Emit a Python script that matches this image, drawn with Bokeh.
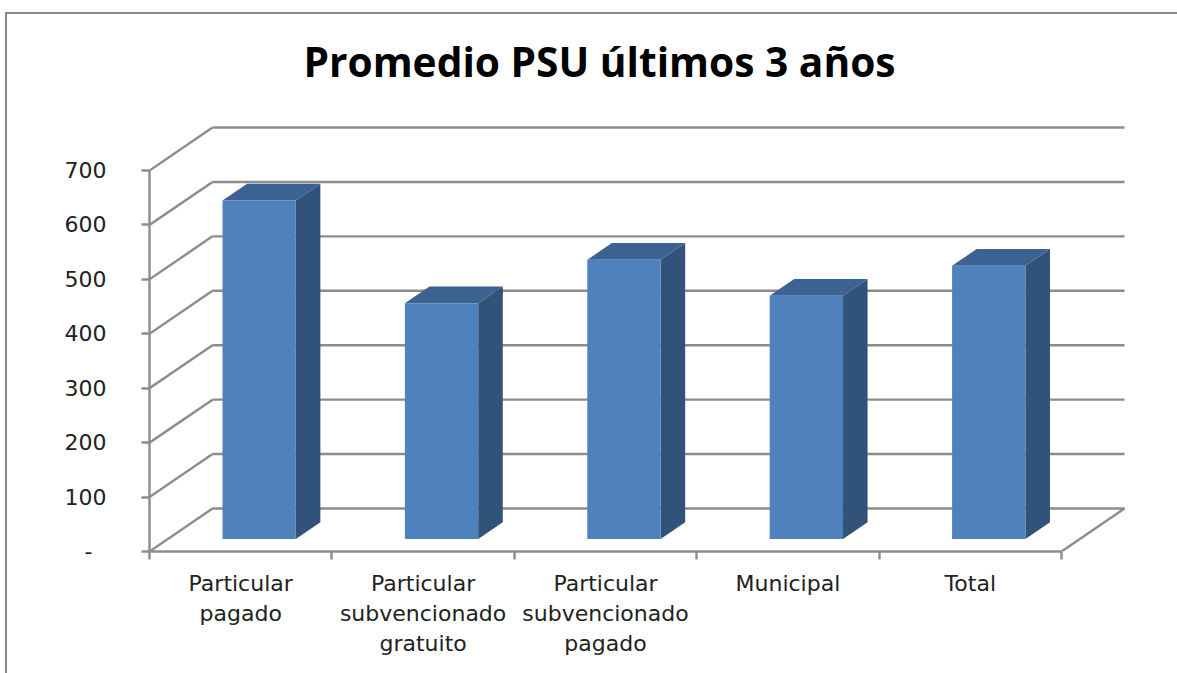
from bokeh.embed import file_html
from bokeh.resources import INLINE
from bokeh.plotting import figure
from bokeh.models import FixedTicker, Label, Range1d

# ---- data ----
categories = ["Particular\npagado", "Particular\nsubvencionado\ngratuito",
              "Particular\nsubvencionado\npagado", "Municipal", "Total"]
values = [622, 433, 513, 447, 502]
y_ticks = [0, 100, 200, 300, 400, 500, 600, 700]
y_labels = ["-\u00a0\u00a0", "100", "200", "300", "400", "500", "600", "700"]
title = "Promedio PSU últimos 3 años"

# ---- page geometry (pixels) ----
W, H = 1177, 673
PX_LEFT, PX_ZERO = 149, 551
PX_PER_CAT, PX_PER_UNIT = 182.4, 381 / 700

# ---- 3D projection, in data units ----
DEPTH_X, DEPTH_Y = 63 / PX_PER_CAT, 43 / PX_PER_UNIT
BAR_NEAR, BAR_FAR = 0.29, 0.68
BAR_GAP, BAR_W = 0.30, 0.402
n = len(categories)

GRID = "#8c8c8c"
LW = 2.4
FRONT, SIDE, TOP = "#4f81bd", "#325379", "#3b6291"
FRAME = "#8a8a8a"

# the chart area's frame (left and top edges only) lies outside the plot frame
frame_line = f"linear-gradient({FRAME},{FRAME})"
p = figure(width=W, height=H, output_backend="svg", toolbar_location=None,
           x_range=Range1d(0, (W - PX_LEFT) / PX_PER_CAT),
           y_range=Range1d(0, PX_ZERO / PX_PER_UNIT),
           min_border_left=PX_LEFT, min_border_right=0, min_border_top=0,
           min_border_bottom=H - PX_ZERO, outline_line_color=None,
           background_fill_color=None, border_fill_color=None,
           margin=(0, 0, 0, 0),
           styles={"background-image": f"{frame_line},{frame_line}",
                   "background-repeat": "no-repeat",
                   "background-size": f"2px {H - 12}px,{W - 5}px 2px",
                   "background-position": "5px 12px,5px 12px"})
p.grid.visible = False

# axes
ax = p.xaxis[0]
centers = [i + 0.5 for i in range(n)]
ax.ticker = FixedTicker(ticks=centers, minor_ticks=list(range(n + 1)))
ax.major_label_overrides = {c: t for c, t in zip(centers, categories)}
ax.major_tick_line_color = None
ax.major_tick_out = 0
ax.major_tick_in = 0
ax.minor_tick_line_color = GRID
ax.minor_tick_line_width = LW
ax.minor_tick_out = 8
ax.minor_tick_in = 0
ax.axis_line_color = GRID
ax.axis_line_width = LW
ax.major_label_standoff = 11
ax.major_label_text_font = "DejaVu Sans"
ax.major_label_text_font_size = "22px"
ax.major_label_text_color = "#222222"
ax.bounds = (0, n)

ay = p.yaxis[0]
ay.ticker = FixedTicker(ticks=y_ticks, minor_ticks=[])
ay.major_label_overrides = {v: t for v, t in zip(y_ticks, y_labels)}
ay.major_tick_line_color = GRID
ay.major_tick_line_width = LW
ay.major_tick_out = 8
ay.major_tick_in = 0
ay.minor_tick_line_color = None
ay.axis_line_color = GRID
ay.axis_line_width = LW
ay.major_label_standoff = 35
ay.major_label_text_font = "DejaVu Sans"
ay.major_label_text_font_size = "22px"
ay.major_label_text_color = "#222222"
ay.bounds = (0, 700)

# walls: back lines and the diagonals joining them to the value axis
p.segment(x0=[DEPTH_X] * len(y_ticks), y0=[v + DEPTH_Y for v in y_ticks],
          x1=[n + DEPTH_X] * len(y_ticks), y1=[v + DEPTH_Y for v in y_ticks],
          line_color=GRID, line_width=LW)
p.segment(x0=[0] * len(y_ticks), y0=y_ticks,
          x1=[DEPTH_X] * len(y_ticks), y1=[v + DEPTH_Y for v in y_ticks],
          line_color=GRID, line_width=LW)
p.segment(x0=[n], y0=[0], x1=[n + DEPTH_X], y1=[DEPTH_Y],
          line_color=GRID, line_width=LW)

# bars
xl = [i + BAR_GAP + BAR_NEAR * DEPTH_X for i in range(n)]
xr = [x + BAR_W for x in xl]
y0 = BAR_NEAR * DEPTH_Y
yt = [v + y0 for v in values]
fx = (BAR_FAR - BAR_NEAR) * DEPTH_X
fy = (BAR_FAR - BAR_NEAR) * DEPTH_Y

p.patches(xs=[[r, r + fx, r + fx, r] for r in xr],
          ys=[[y0, y0 + fy, t + fy, t] for t in yt],
          fill_color=SIDE, line_color=None)
p.patches(xs=[[l, r, r + fx, l + fx] for l, r in zip(xl, xr)],
          ys=[[t, t, t + fy, t + fy] for t in yt],
          fill_color=TOP, line_color=None)
p.quad(left=xl, right=xr, bottom=[y0] * n, top=yt,
       fill_color=FRONT, line_color=None)

# title
p.add_layout(Label(x=(599 - PX_LEFT) / PX_PER_CAT, y=(PX_ZERO - 60) / PX_PER_UNIT,
                   text=title, text_align="center", text_baseline="alphabetic",
                   text_font="Open Sans", text_font_style="bold",
                   text_font_size="40.7px", text_color="#000000"))

open("out.html", "w").write(file_html(p, INLINE))
